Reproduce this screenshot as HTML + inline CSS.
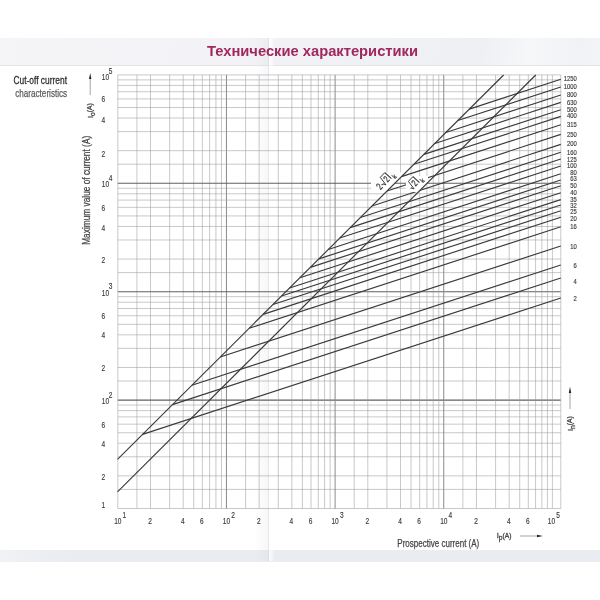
<!DOCTYPE html>
<html lang="ru"><head><meta charset="utf-8"><title>Технические характеристики</title>
<style>
html,body{margin:0;padding:0;background:#fff;}
body{width:600px;height:600px;position:relative;overflow:hidden;font-family:"Liberation Sans",sans-serif;}
.hdr{position:absolute;left:0;top:38px;width:600px;height:27px;background:linear-gradient(100deg,#f5f5f8 0%,#f2f2f6 45%,#eef0f4 80%,#f6f7f9 88%,#f0f2f5 96%,#f3f4f7 100%);border-bottom:1px solid #e2e4e9;box-sizing:content-box}
.ftr{position:absolute;left:0;top:550px;width:600px;height:11.5px;background:linear-gradient(90deg,#f0f2f5 0,#eef0f4 20px,#e9ecf1 70px,#e9ecf1 100%)}
.foldl{position:absolute;left:254px;top:38px;width:15px;height:523px;background:linear-gradient(90deg,rgba(200,203,212,0),rgba(200,203,212,.16))}
.foldr{position:absolute;left:269px;top:38px;width:6px;height:523px;background:linear-gradient(90deg,rgba(255,255,255,.9),rgba(255,255,255,0))}
.foldc{position:absolute;left:268.3px;top:38px;width:1px;height:523px;background:rgba(190,194,204,.3)}
.title{position:absolute;left:0;top:38px;width:600px;height:27px;}
</style></head><body>
<div class="hdr"></div>
<div class="ftr"></div>
<div class="foldl"></div><div class="foldc"></div><div class="foldr"></div>
<svg width="600" height="600" viewBox="0 0 600 600" style="position:absolute;left:0;top:0;filter:blur(0.35px)">
<g fill="none" shape-rendering="auto">
<line x1="117.80" y1="74.9" x2="117.80" y2="508.50" stroke="#9c9c9c" stroke-width="0.55"/>
<line x1="117.8" y1="508.50" x2="560.8" y2="508.50" stroke="#9c9c9c" stroke-width="0.55"/>
<line x1="136.93" y1="74.9" x2="136.93" y2="508.50" stroke="#9c9c9c" stroke-width="0.55"/>
<line x1="117.8" y1="489.41" x2="560.8" y2="489.41" stroke="#9c9c9c" stroke-width="0.55"/>
<line x1="150.51" y1="74.9" x2="150.51" y2="508.50" stroke="#9c9c9c" stroke-width="0.55"/>
<line x1="117.8" y1="475.87" x2="560.8" y2="475.87" stroke="#9c9c9c" stroke-width="0.55"/>
<line x1="169.64" y1="74.9" x2="169.64" y2="508.50" stroke="#9c9c9c" stroke-width="0.55"/>
<line x1="117.8" y1="456.78" x2="560.8" y2="456.78" stroke="#9c9c9c" stroke-width="0.55"/>
<line x1="183.21" y1="74.9" x2="183.21" y2="508.50" stroke="#9c9c9c" stroke-width="0.55"/>
<line x1="117.8" y1="443.24" x2="560.8" y2="443.24" stroke="#9c9c9c" stroke-width="0.55"/>
<line x1="193.74" y1="74.9" x2="193.74" y2="508.50" stroke="#9c9c9c" stroke-width="0.55"/>
<line x1="117.8" y1="432.73" x2="560.8" y2="432.73" stroke="#9c9c9c" stroke-width="0.55"/>
<line x1="202.35" y1="74.9" x2="202.35" y2="508.50" stroke="#9c9c9c" stroke-width="0.55"/>
<line x1="117.8" y1="424.15" x2="560.8" y2="424.15" stroke="#9c9c9c" stroke-width="0.55"/>
<line x1="209.62" y1="74.9" x2="209.62" y2="508.50" stroke="#9c9c9c" stroke-width="0.55"/>
<line x1="117.8" y1="416.89" x2="560.8" y2="416.89" stroke="#9c9c9c" stroke-width="0.55"/>
<line x1="215.92" y1="74.9" x2="215.92" y2="508.50" stroke="#9c9c9c" stroke-width="0.55"/>
<line x1="117.8" y1="410.61" x2="560.8" y2="410.61" stroke="#9c9c9c" stroke-width="0.55"/>
<line x1="221.48" y1="74.9" x2="221.48" y2="508.50" stroke="#9c9c9c" stroke-width="0.55"/>
<line x1="117.8" y1="405.06" x2="560.8" y2="405.06" stroke="#9c9c9c" stroke-width="0.55"/>
<line x1="226.45" y1="74.9" x2="226.45" y2="508.50" stroke="#8a8a8a" stroke-width="1.0"/>
<line x1="117.8" y1="400.10" x2="560.8" y2="400.10" stroke="#606060" stroke-width="1.1"/>
<line x1="245.58" y1="74.9" x2="245.58" y2="508.50" stroke="#9c9c9c" stroke-width="0.55"/>
<line x1="117.8" y1="381.01" x2="560.8" y2="381.01" stroke="#9c9c9c" stroke-width="0.55"/>
<line x1="259.16" y1="74.9" x2="259.16" y2="508.50" stroke="#9c9c9c" stroke-width="0.55"/>
<line x1="117.8" y1="367.47" x2="560.8" y2="367.47" stroke="#9c9c9c" stroke-width="0.55"/>
<line x1="278.29" y1="74.9" x2="278.29" y2="508.50" stroke="#9c9c9c" stroke-width="0.55"/>
<line x1="117.8" y1="348.38" x2="560.8" y2="348.38" stroke="#9c9c9c" stroke-width="0.55"/>
<line x1="291.86" y1="74.9" x2="291.86" y2="508.50" stroke="#9c9c9c" stroke-width="0.55"/>
<line x1="117.8" y1="334.84" x2="560.8" y2="334.84" stroke="#9c9c9c" stroke-width="0.55"/>
<line x1="302.39" y1="74.9" x2="302.39" y2="508.50" stroke="#9c9c9c" stroke-width="0.55"/>
<line x1="117.8" y1="324.33" x2="560.8" y2="324.33" stroke="#9c9c9c" stroke-width="0.55"/>
<line x1="311.00" y1="74.9" x2="311.00" y2="508.50" stroke="#9c9c9c" stroke-width="0.55"/>
<line x1="117.8" y1="315.75" x2="560.8" y2="315.75" stroke="#9c9c9c" stroke-width="0.55"/>
<line x1="318.27" y1="74.9" x2="318.27" y2="508.50" stroke="#9c9c9c" stroke-width="0.55"/>
<line x1="117.8" y1="308.49" x2="560.8" y2="308.49" stroke="#9c9c9c" stroke-width="0.55"/>
<line x1="324.57" y1="74.9" x2="324.57" y2="508.50" stroke="#9c9c9c" stroke-width="0.55"/>
<line x1="117.8" y1="302.21" x2="560.8" y2="302.21" stroke="#9c9c9c" stroke-width="0.55"/>
<line x1="330.13" y1="74.9" x2="330.13" y2="508.50" stroke="#9c9c9c" stroke-width="0.55"/>
<line x1="117.8" y1="296.66" x2="560.8" y2="296.66" stroke="#9c9c9c" stroke-width="0.55"/>
<line x1="335.10" y1="74.9" x2="335.10" y2="508.50" stroke="#8a8a8a" stroke-width="1.0"/>
<line x1="117.8" y1="291.70" x2="560.8" y2="291.70" stroke="#606060" stroke-width="1.1"/>
<line x1="354.23" y1="74.9" x2="354.23" y2="508.50" stroke="#9c9c9c" stroke-width="0.55"/>
<line x1="117.8" y1="272.61" x2="560.8" y2="272.61" stroke="#9c9c9c" stroke-width="0.55"/>
<line x1="367.81" y1="74.9" x2="367.81" y2="508.50" stroke="#9c9c9c" stroke-width="0.55"/>
<line x1="117.8" y1="259.07" x2="560.8" y2="259.07" stroke="#9c9c9c" stroke-width="0.55"/>
<line x1="386.94" y1="74.9" x2="386.94" y2="508.50" stroke="#9c9c9c" stroke-width="0.55"/>
<line x1="117.8" y1="239.98" x2="560.8" y2="239.98" stroke="#9c9c9c" stroke-width="0.55"/>
<line x1="400.51" y1="74.9" x2="400.51" y2="508.50" stroke="#9c9c9c" stroke-width="0.55"/>
<line x1="117.8" y1="226.44" x2="560.8" y2="226.44" stroke="#9c9c9c" stroke-width="0.55"/>
<line x1="411.04" y1="74.9" x2="411.04" y2="508.50" stroke="#9c9c9c" stroke-width="0.55"/>
<line x1="117.8" y1="215.93" x2="560.8" y2="215.93" stroke="#9c9c9c" stroke-width="0.55"/>
<line x1="419.65" y1="74.9" x2="419.65" y2="508.50" stroke="#9c9c9c" stroke-width="0.55"/>
<line x1="117.8" y1="207.35" x2="560.8" y2="207.35" stroke="#9c9c9c" stroke-width="0.55"/>
<line x1="426.92" y1="74.9" x2="426.92" y2="508.50" stroke="#9c9c9c" stroke-width="0.55"/>
<line x1="117.8" y1="200.09" x2="560.8" y2="200.09" stroke="#9c9c9c" stroke-width="0.55"/>
<line x1="433.22" y1="74.9" x2="433.22" y2="508.50" stroke="#9c9c9c" stroke-width="0.55"/>
<line x1="117.8" y1="193.81" x2="560.8" y2="193.81" stroke="#9c9c9c" stroke-width="0.55"/>
<line x1="438.78" y1="74.9" x2="438.78" y2="508.50" stroke="#9c9c9c" stroke-width="0.55"/>
<line x1="117.8" y1="188.26" x2="560.8" y2="188.26" stroke="#9c9c9c" stroke-width="0.55"/>
<line x1="443.75" y1="74.9" x2="443.75" y2="508.50" stroke="#8a8a8a" stroke-width="1.0"/>
<line x1="117.8" y1="183.30" x2="560.8" y2="183.30" stroke="#606060" stroke-width="1.1"/>
<line x1="462.88" y1="74.9" x2="462.88" y2="508.50" stroke="#9c9c9c" stroke-width="0.55"/>
<line x1="117.8" y1="164.21" x2="560.8" y2="164.21" stroke="#9c9c9c" stroke-width="0.55"/>
<line x1="476.46" y1="74.9" x2="476.46" y2="508.50" stroke="#9c9c9c" stroke-width="0.55"/>
<line x1="117.8" y1="150.67" x2="560.8" y2="150.67" stroke="#9c9c9c" stroke-width="0.55"/>
<line x1="495.59" y1="74.9" x2="495.59" y2="508.50" stroke="#9c9c9c" stroke-width="0.55"/>
<line x1="117.8" y1="131.58" x2="560.8" y2="131.58" stroke="#9c9c9c" stroke-width="0.55"/>
<line x1="509.16" y1="74.9" x2="509.16" y2="508.50" stroke="#9c9c9c" stroke-width="0.55"/>
<line x1="117.8" y1="118.04" x2="560.8" y2="118.04" stroke="#9c9c9c" stroke-width="0.55"/>
<line x1="519.69" y1="74.9" x2="519.69" y2="508.50" stroke="#9c9c9c" stroke-width="0.55"/>
<line x1="117.8" y1="107.53" x2="560.8" y2="107.53" stroke="#9c9c9c" stroke-width="0.55"/>
<line x1="528.30" y1="74.9" x2="528.30" y2="508.50" stroke="#9c9c9c" stroke-width="0.55"/>
<line x1="117.8" y1="98.95" x2="560.8" y2="98.95" stroke="#9c9c9c" stroke-width="0.55"/>
<line x1="535.57" y1="74.9" x2="535.57" y2="508.50" stroke="#9c9c9c" stroke-width="0.55"/>
<line x1="117.8" y1="91.69" x2="560.8" y2="91.69" stroke="#9c9c9c" stroke-width="0.55"/>
<line x1="541.87" y1="74.9" x2="541.87" y2="508.50" stroke="#9c9c9c" stroke-width="0.55"/>
<line x1="117.8" y1="85.41" x2="560.8" y2="85.41" stroke="#9c9c9c" stroke-width="0.55"/>
<line x1="547.43" y1="74.9" x2="547.43" y2="508.50" stroke="#9c9c9c" stroke-width="0.55"/>
<line x1="117.8" y1="79.86" x2="560.8" y2="79.86" stroke="#9c9c9c" stroke-width="0.55"/>
<line x1="552.40" y1="74.9" x2="552.40" y2="508.50" stroke="#9c9c9c" stroke-width="0.55"/>
<line x1="560.8" y1="74.9" x2="560.8" y2="508.50" stroke="#9c9c9c" stroke-width="0.55"/>
<line x1="117.8" y1="74.9" x2="560.8" y2="74.9" stroke="#9c9c9c" stroke-width="0.55"/>
</g>
<g fill="#fff">
<polygon points="371,172.5 405,172.5 387,191 371,191"/>
</g>
<g fill="none" stroke="#3a3a3a" stroke-width="1.15" stroke-linecap="butt">
<line x1="469.32" y1="109.12" x2="560.8" y2="79.3"/>
<line x1="457.81" y1="120.57" x2="560.8" y2="87"/>
<line x1="445.86" y1="132.47" x2="560.8" y2="95"/>
<line x1="434.80" y1="143.47" x2="560.8" y2="102.4"/>
<line x1="423.90" y1="154.33" x2="560.8" y2="109.7"/>
<line x1="413.89" y1="164.29" x2="560.8" y2="116.4"/>
<line x1="401.49" y1="176.64" x2="560.8" y2="124.7"/>
<line x1="387.00" y1="191.06" x2="560.8" y2="134.4"/>
<line x1="372.06" y1="205.93" x2="560.8" y2="144.4"/>
<line x1="360.40" y1="217.53" x2="560.8" y2="152.2"/>
<line x1="350.24" y1="227.64" x2="560.8" y2="159"/>
<line x1="339.79" y1="238.05" x2="560.8" y2="166"/>
<line x1="328.28" y1="249.50" x2="560.8" y2="173.7"/>
<line x1="318.87" y1="258.87" x2="560.8" y2="180"/>
<line x1="310.35" y1="267.35" x2="560.8" y2="185.7"/>
<line x1="299.90" y1="277.75" x2="560.8" y2="192.7"/>
<line x1="289.59" y1="288.02" x2="560.8" y2="199.6"/>
<line x1="281.52" y1="296.05" x2="560.8" y2="205"/>
<line x1="273.00" y1="304.52" x2="560.8" y2="210.7"/>
<line x1="263.14" y1="314.34" x2="560.8" y2="217.3"/>
<line x1="249.10" y1="328.31" x2="560.8" y2="226.7"/>
<line x1="220.26" y1="357.01" x2="560.8" y2="246"/>
<line x1="191.88" y1="385.27" x2="560.8" y2="265"/>
<line x1="172.46" y1="404.60" x2="560.8" y2="278"/>
<line x1="142.58" y1="434.34" x2="560.8" y2="298"/>
</g>
<polygon fill="#fff" points="406,176 428,176 428,182.6 418.5,192 406,192"/>
<g fill="none" stroke="#3a3a3a" stroke-width="1.15">
<line x1="117.5" y1="459.3" x2="503.6" y2="75.0"/>
<line x1="117.5" y1="491.9" x2="535.7" y2="75.0"/>
</g>
<g font-family="Liberation Sans, sans-serif" fill="#3a3a3a" stroke="#3a3a3a" stroke-width="0.15">
<text transform="translate(576.8,81.3) scale(0.9,1)" font-size="6.5" text-anchor="end">1250</text>
<text transform="translate(576.8,89.3) scale(0.9,1)" font-size="6.5" text-anchor="end">1000</text>
<text transform="translate(576.8,97.3) scale(0.9,1)" font-size="6.5" text-anchor="end">800</text>
<text transform="translate(576.8,105.3) scale(0.9,1)" font-size="6.5" text-anchor="end">630</text>
<text transform="translate(576.8,111.8) scale(0.9,1)" font-size="6.5" text-anchor="end">500</text>
<text transform="translate(576.8,118.3) scale(0.9,1)" font-size="6.5" text-anchor="end">400</text>
<text transform="translate(576.8,126.8) scale(0.9,1)" font-size="6.5" text-anchor="end">315</text>
<text transform="translate(576.8,136.8) scale(0.9,1)" font-size="6.5" text-anchor="end">250</text>
<text transform="translate(576.8,146.3) scale(0.9,1)" font-size="6.5" text-anchor="end">200</text>
<text transform="translate(576.8,154.8) scale(0.9,1)" font-size="6.5" text-anchor="end">160</text>
<text transform="translate(576.8,161.8) scale(0.9,1)" font-size="6.5" text-anchor="end">125</text>
<text transform="translate(576.8,168.3) scale(0.9,1)" font-size="6.5" text-anchor="end">100</text>
<text transform="translate(576.8,174.8) scale(0.9,1)" font-size="6.5" text-anchor="end">80</text>
<text transform="translate(576.8,180.8) scale(0.9,1)" font-size="6.5" text-anchor="end">63</text>
<text transform="translate(576.8,188.3) scale(0.9,1)" font-size="6.5" text-anchor="end">50</text>
<text transform="translate(576.8,195.3) scale(0.9,1)" font-size="6.5" text-anchor="end">40</text>
<text transform="translate(576.8,201.9) scale(0.9,1)" font-size="6.5" text-anchor="end">35</text>
<text transform="translate(576.8,208.3) scale(0.9,1)" font-size="6.5" text-anchor="end">32</text>
<text transform="translate(576.8,214.3) scale(0.9,1)" font-size="6.5" text-anchor="end">25</text>
<text transform="translate(576.8,221.3) scale(0.9,1)" font-size="6.5" text-anchor="end">20</text>
<text transform="translate(576.8,229.3) scale(0.9,1)" font-size="6.5" text-anchor="end">16</text>
<text transform="translate(576.8,248.9) scale(0.9,1)" font-size="6.5" text-anchor="end">10</text>
<text transform="translate(576.8,268.3) scale(0.9,1)" font-size="6.5" text-anchor="end">6</text>
<text transform="translate(576.8,284.3) scale(0.9,1)" font-size="6.5" text-anchor="end">4</text>
<text transform="translate(576.8,301.3) scale(0.9,1)" font-size="6.5" text-anchor="end">2</text>
<text transform="translate(103.2,508.2) scale(0.8,1)" font-size="8.2" text-anchor="middle">1</text>
<text transform="translate(103.2,479.5) scale(0.8,1)" font-size="8.2" text-anchor="middle">2</text>
<text transform="translate(103.2,446.8) scale(0.8,1)" font-size="8.2" text-anchor="middle">4</text>
<text transform="translate(103.2,427.7) scale(0.8,1)" font-size="8.2" text-anchor="middle">6</text>
<text transform="translate(101.8,403.9) scale(0.8,1)" font-size="8.2" text-anchor="start">10</text>
<text transform="translate(110.6,397.6) scale(0.8,1)" font-size="8.2" text-anchor="middle">2</text>
<text transform="translate(103.2,371.1) scale(0.8,1)" font-size="8.2" text-anchor="middle">2</text>
<text transform="translate(103.2,338.4) scale(0.8,1)" font-size="8.2" text-anchor="middle">4</text>
<text transform="translate(103.2,319.3) scale(0.8,1)" font-size="8.2" text-anchor="middle">6</text>
<text transform="translate(101.8,295.5) scale(0.8,1)" font-size="8.2" text-anchor="start">10</text>
<text transform="translate(110.6,289.2) scale(0.8,1)" font-size="8.2" text-anchor="middle">3</text>
<text transform="translate(103.2,262.7) scale(0.8,1)" font-size="8.2" text-anchor="middle">2</text>
<text transform="translate(103.2,230.5) scale(0.8,1)" font-size="8.2" text-anchor="middle">4</text>
<text transform="translate(103.2,210.9) scale(0.8,1)" font-size="8.2" text-anchor="middle">6</text>
<text transform="translate(101.8,187.1) scale(0.8,1)" font-size="8.2" text-anchor="start">10</text>
<text transform="translate(110.6,180.8) scale(0.8,1)" font-size="8.2" text-anchor="middle">4</text>
<text transform="translate(103.2,156.5) scale(0.8,1)" font-size="8.2" text-anchor="middle">2</text>
<text transform="translate(103.2,122.8) scale(0.8,1)" font-size="8.2" text-anchor="middle">4</text>
<text transform="translate(103.2,102.2) scale(0.8,1)" font-size="8.2" text-anchor="middle">6</text>
<text transform="translate(101.8,79.9) scale(0.8,1)" font-size="8.2" text-anchor="start">10</text>
<text transform="translate(110.6,73.6) scale(0.8,1)" font-size="8.2" text-anchor="middle">5</text>
<text transform="translate(117.8,524.4) scale(0.8,1)" font-size="8.2" text-anchor="middle">10</text>
<text transform="translate(124.4,518.4) scale(0.8,1)" font-size="8.2" text-anchor="middle">1</text>
<text transform="translate(150.0,524.4) scale(0.8,1)" font-size="8.2" text-anchor="middle">2</text>
<text transform="translate(182.7,524.4) scale(0.8,1)" font-size="8.2" text-anchor="middle">4</text>
<text transform="translate(201.8,524.4) scale(0.8,1)" font-size="8.2" text-anchor="middle">6</text>
<text transform="translate(226.4,524.4) scale(0.8,1)" font-size="8.2" text-anchor="middle">10</text>
<text transform="translate(233.0,518.4) scale(0.8,1)" font-size="8.2" text-anchor="middle">2</text>
<text transform="translate(258.7,524.4) scale(0.8,1)" font-size="8.2" text-anchor="middle">2</text>
<text transform="translate(291.4,524.4) scale(0.8,1)" font-size="8.2" text-anchor="middle">4</text>
<text transform="translate(310.5,524.4) scale(0.8,1)" font-size="8.2" text-anchor="middle">6</text>
<text transform="translate(335.1,524.4) scale(0.8,1)" font-size="8.2" text-anchor="middle">10</text>
<text transform="translate(341.7,518.4) scale(0.8,1)" font-size="8.2" text-anchor="middle">3</text>
<text transform="translate(367.3,524.4) scale(0.8,1)" font-size="8.2" text-anchor="middle">2</text>
<text transform="translate(400.0,524.4) scale(0.8,1)" font-size="8.2" text-anchor="middle">4</text>
<text transform="translate(419.1,524.4) scale(0.8,1)" font-size="8.2" text-anchor="middle">6</text>
<text transform="translate(443.8,524.4) scale(0.8,1)" font-size="8.2" text-anchor="middle">10</text>
<text transform="translate(450.4,518.4) scale(0.8,1)" font-size="8.2" text-anchor="middle">4</text>
<text transform="translate(476.0,524.4) scale(0.8,1)" font-size="8.2" text-anchor="middle">2</text>
<text transform="translate(508.7,524.4) scale(0.8,1)" font-size="8.2" text-anchor="middle">4</text>
<text transform="translate(527.8,524.4) scale(0.8,1)" font-size="8.2" text-anchor="middle">6</text>
<text transform="translate(551.4,524.4) scale(0.8,1)" font-size="8.2" text-anchor="middle">10</text>
<text transform="translate(558.0,518.4) scale(0.8,1)" font-size="8.2" text-anchor="middle">5</text>
</g>

<g font-family="Liberation Sans, sans-serif" fill="#444" stroke="#444" stroke-width="0.12">
<!-- left titles -->
<text x="13.5" y="83.6" font-size="11.5" fill="#2e2e2e" stroke="#2e2e2e" stroke-width="0.3" textLength="53.5" lengthAdjust="spacingAndGlyphs">Cut-off current</text>
<text x="15.2" y="97.4" font-size="11.5" fill="#5a5a5a" stroke="#5a5a5a" stroke-width="0.25" textLength="52" lengthAdjust="spacingAndGlyphs">characteristics</text>
<!-- y axis title -->
<text transform="translate(89.6,244.8) rotate(-90)" font-size="10.5" stroke-width="0.25" textLength="109" lengthAdjust="spacingAndGlyphs">Maximum value of current (A)</text>
<g transform="translate(92.6,118) rotate(-90)"><text stroke-width="0.3" font-size="8" transform="scale(0.95,1)">I<tspan font-size="7" dy="2.2">o</tspan><tspan font-size="7" dy="-2.6">(A)</tspan></text></g>
<line x1="90.2" y1="95" x2="90.2" y2="78" stroke="#333" stroke-width="0.45"/>
<polygon points="90.2,73 91.4,79 89,79" fill="#222" stroke="none"/>
<!-- x axis title -->
<text x="397.3" y="547.3" font-size="10.5" stroke-width="0.25" textLength="82" lengthAdjust="spacingAndGlyphs">Prospective current (A)</text>
<g transform="translate(496.7,537.9)"><text stroke-width="0.3" font-size="8" transform="scale(0.95,1)">I<tspan font-size="7" dy="2.2">p</tspan><tspan font-size="7" dy="-2.6">(A)</tspan></text></g>
<line x1="520" y1="536" x2="538" y2="536" stroke="#333" stroke-width="0.45"/>
<polygon points="542.8,536 537,534.8 537,537.2" fill="#222" stroke="none"/>
<!-- right In(A) -->
<g transform="translate(572.6,431) rotate(-90)"><text stroke-width="0.3" font-size="8" transform="scale(0.95,1)">I<tspan font-size="7" dy="2.2">n</tspan><tspan font-size="7" dy="-2.6">(A)</tspan></text></g>
<line x1="570" y1="409" x2="570" y2="392" stroke="#333" stroke-width="0.45"/>
<polygon points="570,386.7 571.2,393 568.8,393" fill="#222" stroke="none"/>
<!-- diagonal labels -->
<g transform="translate(380.1,177.6) rotate(-47)" stroke="#333" stroke-width="0.25" fill="#333">
 <text transform="translate(-9,9) scale(0.72,1)" font-size="10">2</text>
 <circle cx="-3.9" cy="6.3" r="0.55"/>
 <path d="M-3.4,6.8 L-2.6,6.3 L-1.3,9.3 L0.3,0 L6.9,0" stroke="#333" stroke-width="0.9" fill="none"/>
 <text transform="translate(1.2,9) scale(0.72,1)" font-size="9.5">2</text>
 <line x1="6.9" y1="0" x2="6.9" y2="9" stroke="#333" stroke-width="1.1"/>
 <text transform="translate(8.8,12) scale(0.85,1)" font-size="7">k</text>
</g>
<g transform="translate(408.2,181.6) rotate(-47)" stroke="#333" stroke-width="0.25" fill="#333">
 <path d="M-3.4,6.8 L-2.6,6.3 L-1.3,9.3 L0.3,0 L6.9,0" stroke="#333" stroke-width="0.9" fill="none"/>
 <text transform="translate(1.2,9) scale(0.72,1)" font-size="9.5">2</text>
 <line x1="6.9" y1="0" x2="6.9" y2="9" stroke="#333" stroke-width="1.1"/>
 <text transform="translate(8.8,12) scale(0.85,1)" font-size="7">k</text>
</g>
</g>
</svg>

<svg width="600" height="600" viewBox="0 0 600 600" style="position:absolute;left:0;top:0;filter:blur(0.3px)">
<text x="207" y="55.8" font-family="Liberation Sans, sans-serif" font-weight="bold" font-size="14" fill="#a0285e" textLength="211" lengthAdjust="spacingAndGlyphs">Технические характеристики</text>
</svg>
</body></html>
